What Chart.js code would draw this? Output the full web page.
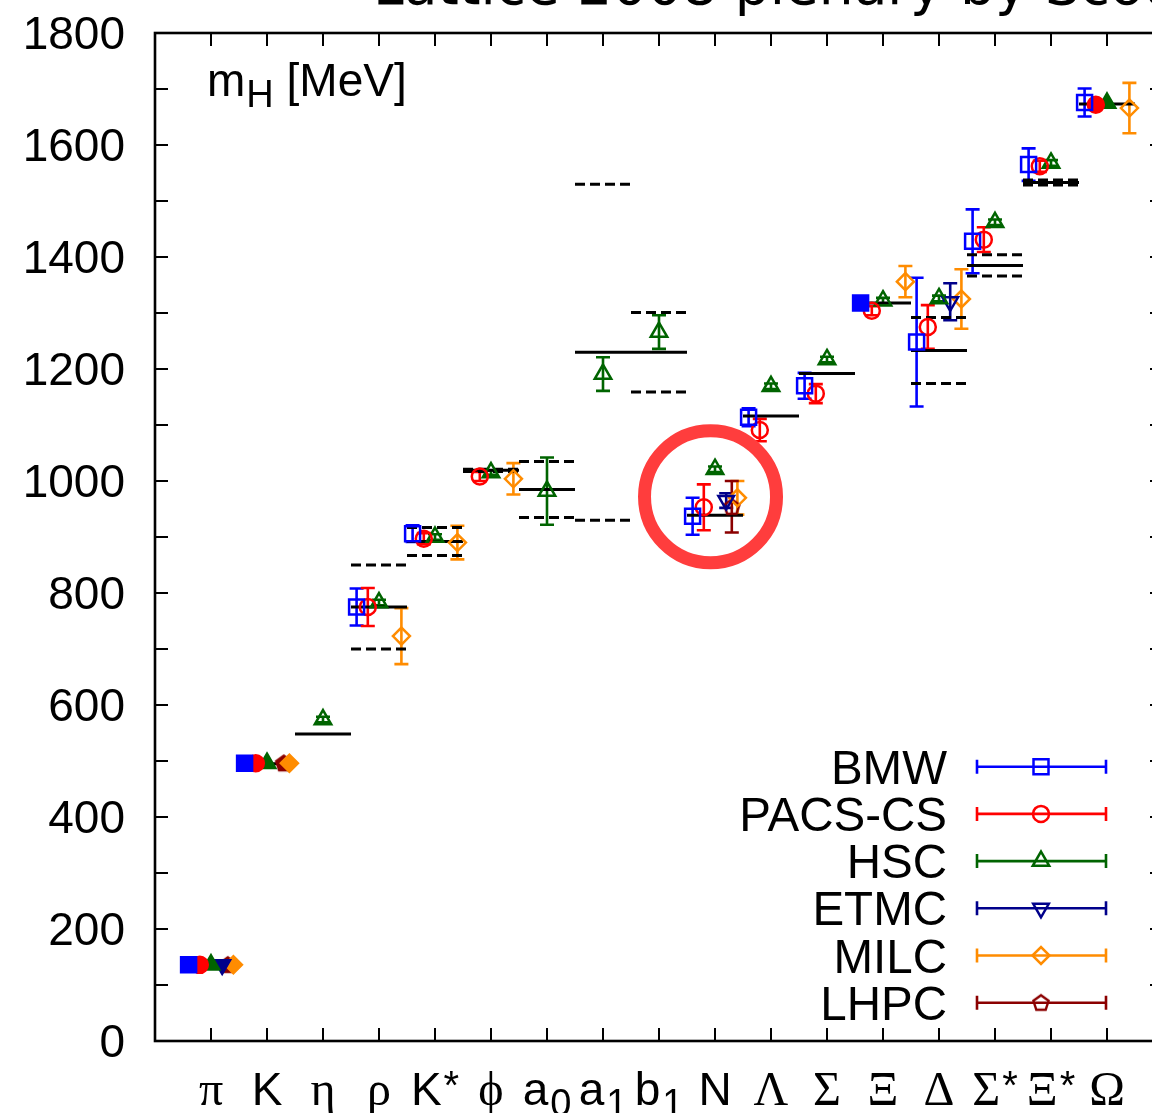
<!DOCTYPE html>
<html lang="en">
<head>
  <meta charset="UTF-8">
  <title>Light hadron spectrum</title>
  <script src="https://cdn.jsdelivr.net/npm/chart.js@4.4.3/dist/chart.umd.min.js"></script>
  <style>
    html, body { margin: 0; padding: 0; background: #fff; overflow: hidden; }
    #wrap { width: 1180px; height: 1113px; }
  </style>
</head>
<body>
  <div id="wrap"><canvas id="spectrum" width="1180" height="1113"></canvas></div>

  <script>
    // hadrons along the x axis (main symbol, subscript, superscript)
    const categories = ['π', 'K', 'η', 'ρ', 'K', 'ϕ', 'a', 'a', 'b', 'N', 'Λ', 'Σ', 'Ξ', 'Δ', 'Σ', 'Ξ', 'Ω'];
    const catSub     = ['', '', '', '', '', '', '0', '1', '1', '', '', '', '', '', '', '', ''];
    const catSup     = ['', '', '', '', '*', '', '', '', '', '', '', '', '', '', '*', '*', ''];

    // experiment: mass (solid line) and half width of the resonance (dashed lines)
    const expMass      = [138, 495, 548, 775, 892, 1019, 985, 1230, 1230, 939, 1116, 1192, 1318, 1233, 1385, 1533, 1673];
    const expHalfWidth = [0, 0, 0, 75, 25, 2, 50, 300, 71, 0, 0, 0, 0, 59, 19, 4.5, 0];

    // lattice results, null = not computed; input = 1 when used to fix parameters (filled marker)
    const bmwMass   = [136, 496, null, 775, 906, null, null, null, null, 937, 1114, 1170, 1318, 1248, 1428, 1565, 1676];
    const bmwErr    = [0, 0, null, 33, 15, null, null, null, null, 33, 16, 23, 0, 115, 57, 29, 25];
    const bmwInput  = [1, 1, 0, 0, 0, 0, 0, 0, 0, 0, 0, 0, 1, 0, 0, 0, 0];

    const pacsMass  = [136, 496, null, 775, 897, 1008, null, null, null, 953, 1091, 1156, 1304, 1275, 1431, 1562, 1672];
    const pacsErr   = [0, 0, null, 34, 10, 8, null, null, null, 41, 20, 17, 8, 39, 22, 10, 0];
    const pacsInput = [1, 1, 0, 0, 0, 0, 0, 0, 0, 0, 0, 0, 0, 0, 0, 0, 1];

    const hscMass   = [136, 496, 574, 783, 900, 1015, 982, 1191, 1266, 1021, 1169, 1217, 1322, 1326, 1462, 1568, 1675];
    const hscErr    = [0, 0, 5, 5, 5, 4, 60, 30, 30, 5, 5, 5, 5, 5, 5, 5, 0];
    const hscInput  = [1, 1, 0, 0, 0, 0, 0, 0, 0, 0, 0, 0, 0, 0, 0, 0, 1];

    const etmcMass  = [136, null, null, null, null, null, null, null, null, 965, null, null, null, 1320, null, null, null];
    const etmcErr   = [0, null, null, null, null, null, null, null, null, 13, null, null, null, 33, null, null, null];
    const etmcInput = [1, 0, 0, 0, 0, 0, 0, 0, 0, 0, 0, 0, 0, 0, 0, 0, 0];

    const milcMass  = [136, 496, null, 723, 890, 1004, null, null, null, 970, null, null, 1356, 1325, null, null, 1666];
    const milcErr   = [0, 0, null, 50, 30, 28, null, null, null, 30, null, null, 28, 53, null, null, 45];
    const milcInput = [1, 1, 0, 0, 0, 0, 0, 0, 0, 0, 0, 0, 0, 0, 0, 0, 0];

    const lhpcMass  = [136, 496, null, null, null, null, null, null, null, 954, null, null, null, null, null, null, null];
    const lhpcErr   = [0, 0, null, null, null, null, null, null, null, 46, null, null, null, null, null, null, null];
    const lhpcInput = [1, 1, 0, 0, 0, 0, 0, 0, 0, 0, 0, 0, 0, 0, 0, 0, 0];

    const SANS = '"Liberation Sans", Arial, Helvetica, sans-serif';
    const SERIF = '"Liberation Serif", "Times New Roman", serif';

    // pentagon marker for LHPC (no built-in style for it)
    function pentagon(color, filled) {
      const c = document.createElement('canvas');
      c.width = 22; c.height = 22;
      const g = c.getContext('2d');
      g.beginPath();
      for (let k = 0; k < 5; k++) {
        const a = -Math.PI / 2 + k * 2 * Math.PI / 5;
        g.lineTo(11 + 8 * Math.cos(a), 11.5 + 8 * Math.sin(a));
      }
      g.closePath();
      g.lineWidth = 2.4;
      g.strokeStyle = color;
      g.fillStyle = color;
      if (filled) g.fill();
      g.stroke();
      return c;
    }
    const pentOpen = pentagon('#8b0000', false);
    const pentFull = pentagon('#8b0000', true);

    const series = [
      { label: 'BMW',     mass: bmwMass,  err: bmwErr,  input: bmwInput,  shift: -0.4, color: '#0000ff', style: 'rect',     radius: 10.6, rot: 0 },
      { label: 'PACS-CS', mass: pacsMass, err: pacsErr, input: pacsInput, shift: -0.2, color: '#ff0000', style: 'circle',   radius: 8,    rot: 0 },
      { label: 'HSC',     mass: hscMass,  err: hscErr,  input: hscInput,  shift: 0,    color: '#006400', style: 'triangle', radius: 9.5,  rot: 0 },
      { label: 'ETMC',    mass: etmcMass, err: etmcErr, input: etmcInput, shift: 0.2,  color: '#00008b', style: 'triangle', radius: 9,    rot: 180 },
      { label: 'MILC',    mass: milcMass, err: milcErr, input: milcInput, shift: 0.4,  color: '#ff8c00', style: 'rectRot',  radius: 8.5,  rot: 0 },
      { label: 'LHPC',    mass: lhpcMass, err: lhpcErr, input: lhpcInput, shift: 0.3,  color: '#8b0000', style: 'pentagon', radius: 8,    rot: 0 }
    ];

    function seriesPoints(s) {
      const pts = [];
      categories.forEach((c, i) => {
        if (s.mass[i] === null) return;
        pts.push({ x: i + 1 + s.shift, y: s.mass[i], err: s.err[i], filled: s.input[i] === 1 });
      });
      return pts;
    }

    const solidPts = [];
    const dashedPts = [];
    expMass.forEach((m, i) => {
      const c = i + 1;
      solidPts.push({ x: c - 0.5, y: m }, { x: c + 0.5, y: m }, { x: c + 0.5, y: null });
      const hw = expHalfWidth[i];
      if (hw > 0) {
        dashedPts.push({ x: c - 0.5, y: m + hw }, { x: c + 0.5, y: m + hw }, { x: c + 0.5, y: null });
        dashedPts.push({ x: c - 0.5, y: m - hw }, { x: c + 0.5, y: m - hw }, { x: c + 0.5, y: null });
      }
    });

    const datasets = series.map(s => ({
      label: s.label,
      data: seriesPoints(s),
      errBars: true,
      order: 0,
      borderColor: s.color,
      pointBorderColor: s.color,
      pointBackgroundColor: ctx => (ctx.raw && ctx.raw.filled ? s.color : 'rgba(0,0,0,0)'),
      pointStyle: s.style === 'pentagon' ? (ctx => (ctx.raw && ctx.raw.filled ? pentFull : pentOpen)) : s.style,
      pointRotation: s.rot,
      pointRadius: s.radius,
      pointHoverRadius: s.radius,
      pointBorderWidth: 2.5,
      showLine: false
    }));

    datasets.push({
      label: 'experiment',
      data: solidPts,
      order: 5,
      showLine: true,
      spanGaps: false,
      borderColor: '#000',
      borderWidth: 3,
      pointRadius: 0
    });
    datasets.push({
      label: 'width',
      data: dashedPts,
      order: 6,
      showLine: true,
      spanGaps: false,
      borderColor: '#000',
      borderWidth: 3,
      borderDash: [10, 5],
      pointRadius: 0
    });

    // vertical error bars with caps, under the markers
    const errorBars = {
      id: 'errorBars',
      beforeDatasetsDraw(chart) {
        const ctx = chart.ctx;
        const ys = chart.scales.y;
        chart.data.datasets.forEach((ds, di) => {
          if (!ds.errBars) return;
          const meta = chart.getDatasetMeta(di);
          ctx.save();
          ctx.strokeStyle = ds.borderColor;
          ctx.lineWidth = 2.6;
          meta.data.forEach((pt, j) => {
            const raw = ds.data[j];
            if (!raw.err) return;
            const y1 = ys.getPixelForValue(raw.y + raw.err);
            const y2 = ys.getPixelForValue(raw.y - raw.err);
            ctx.beginPath();
            ctx.moveTo(pt.x, y1); ctx.lineTo(pt.x, y2);
            ctx.moveTo(pt.x - 7, y1); ctx.lineTo(pt.x + 7, y1);
            ctx.moveTo(pt.x - 7, y2); ctx.lineTo(pt.x + 7, y2);
            ctx.stroke();
          });
          ctx.restore();
        });
      }
    };

    // frame, inward ticks, hadron labels, key, title and the highlight ring
    const decorations = {
      id: 'decorations',
      afterDraw(chart) {
        const ctx = chart.ctx;
        const a = chart.chartArea;
        const xs = chart.scales.x, ys = chart.scales.y;
        ctx.save();

        ctx.strokeStyle = '#000';
        ctx.lineWidth = 2.6;
        ctx.strokeRect(a.left, a.top, a.right - a.left, a.bottom - a.top);

        ctx.lineWidth = 2;
        ctx.beginPath();
        for (let v = 100; v < 1800; v += 100) {
          const y = ys.getPixelForValue(v);
          ctx.moveTo(a.left, y); ctx.lineTo(a.left + 13, y);
          ctx.moveTo(a.right, y); ctx.lineTo(a.right - 13, y);
        }
        for (let i = 1; i <= categories.length; i++) {
          const x = xs.getPixelForValue(i);
          ctx.moveTo(x, a.bottom); ctx.lineTo(x, a.bottom - 13);
          ctx.moveTo(x, a.top); ctx.lineTo(x, a.top + 13);
        }
        ctx.stroke();

        // hadron names under the axis
        ctx.fillStyle = '#000';
        ctx.textBaseline = 'alphabetic';
        ctx.textAlign = 'left';
        const base = a.bottom + 64;
        categories.forEach((name, i) => {
          const greek = /[\u0370-\u03ff]/.test(name);
          const mainFont = greek ? '48px ' + SERIF : '46px ' + SANS;
          const subFont = '38px ' + SANS;
          const supFont = '40px ' + SANS;
          ctx.font = mainFont; const w1 = ctx.measureText(name).width;
          ctx.font = subFont; const w2 = catSub[i] ? ctx.measureText(catSub[i]).width + 2 : 0;
          ctx.font = supFont; const w3 = catSup[i] ? ctx.measureText(catSup[i]).width + 2 : 0;
          let x = xs.getPixelForValue(i + 1) - (w1 + w2 + w3) / 2;
          ctx.font = mainFont; ctx.fillText(name, x, base); x += w1 + 2;
          if (catSub[i]) { ctx.font = subFont; ctx.fillText(catSub[i], x, base + 11); x += w2; }
          if (catSup[i]) { ctx.font = supFont; ctx.fillText(catSup[i], x, base - 6); }
        });

        // quantity label inside the frame
        ctx.font = '46px ' + SANS;
        ctx.fillText('m', a.left + 52, a.top + 63);
        let lx = a.left + 52 + ctx.measureText('m').width;
        ctx.font = '38px ' + SANS;
        ctx.fillText('H', lx + 1, a.top + 74);
        lx += ctx.measureText('H').width + 1;
        ctx.font = '46px ' + SANS;
        ctx.fillText(' [MeV]', lx, a.top + 63);

        // title, mostly above the picture
        ctx.font = '55px "DejaVu Sans", sans-serif';
        ctx.fillText('Lattice 2008 plenary by Scott Gottlieb', 373, 4);

        // key: name, then error bar sample with marker
        series.forEach((s, k) => {
          const y = 766.7 + k * 47.2;
          ctx.font = '47.5px ' + SANS;
          ctx.textAlign = 'right';
          ctx.fillStyle = '#000';
          ctx.fillText(s.label, 947, y + 17);
          ctx.strokeStyle = s.color;
          ctx.lineWidth = 2.6;
          ctx.beginPath();
          ctx.moveTo(977, y); ctx.lineTo(1106, y);
          ctx.moveTo(977, y - 7); ctx.lineTo(977, y + 7);
          ctx.moveTo(1106, y - 7); ctx.lineTo(1106, y + 7);
          ctx.stroke();
          ctx.fillStyle = 'rgba(0,0,0,0)';
          ctx.lineWidth = 2.5;
          Chart.helpers.drawPoint(ctx, {
            pointStyle: s.style === 'pentagon' ? pentOpen : s.style,
            radius: s.radius,
            rotation: s.rot,
            borderWidth: 2.5
          }, 1041, y);
        });

        // highlight ring around the nucleon results
        ctx.strokeStyle = '#ff3d3d';
        ctx.lineWidth = 13;
        ctx.beginPath();
        ctx.arc(xs.getPixelForValue(9.92), ys.getPixelForValue(972), 66, 0, 2 * Math.PI);
        ctx.stroke();

        ctx.restore();
      }
    };

    new Chart(document.getElementById('spectrum'), {
      type: 'scatter',
      data: { datasets },
      options: {
        responsive: false,
        animation: false,
        devicePixelRatio: 1,
        layout: { padding: { top: 33, right: 17, left: 0, bottom: 0 } },
        scales: {
          x: {
            type: 'linear',
            min: 0,
            max: 18,
            grid: { display: false, drawTicks: false },
            border: { display: false },
            ticks: { display: false },
            afterFit: scale => { scale.height = 72; }
          },
          y: {
            min: 0,
            max: 1800,
            grid: { display: false, drawTicks: false, tickLength: 0 },
            border: { display: false },
            ticks: {
              stepSize: 200,
              padding: 30,
              labelOffset: 3,
              color: '#000',
              font: { family: SANS, size: 46 },
              callback: v => String(v)
            },
            afterFit: scale => {
              scale.width = 155;
              scale.paddingTop = 0;
              scale.paddingBottom = 0;
            }
          }
        },
        plugins: {
          legend: { display: false },
          tooltip: { enabled: false }
        }
      },
      plugins: [errorBars, decorations]
    });
  </script>
</body>
</html>
